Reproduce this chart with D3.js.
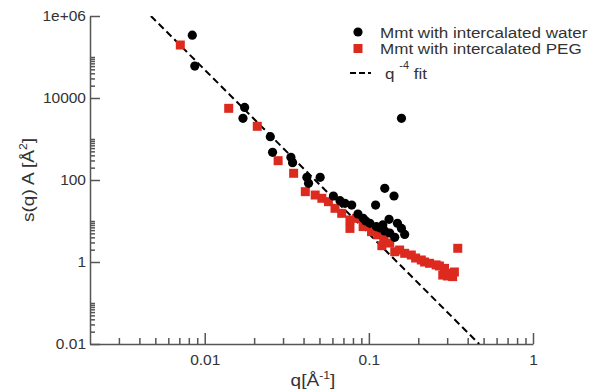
<!DOCTYPE html>
<html>
<head>
<meta charset="utf-8">
<script src="https://cdn.jsdelivr.net/npm/d3@7"></script>
<style>
  body { margin: 0; background: #fff; }
  svg { font-family: "Liberation Sans", Arial, sans-serif; }
</style>
</head>
<body>
<svg width="601" height="392"></svg>
<script>
// Mmt with intercalated water
const waterQ = [0.0084, 0.0087, 0.0171, 0.0175, 0.0251, 0.0259, 0.0335, 0.0343, 0.0419, 0.0429,
  0.0505, 0.0608, 0.0667, 0.0715, 0.0786, 0.0858, 0.0923, 0.0958, 0.1014, 0.1099,
  0.111, 0.1166, 0.1216, 0.125, 0.125, 0.1327, 0.134, 0.1423, 0.1438, 0.1493,
  0.158, 0.158, 0.1653];
const waterS = [3.4e5, 6.0e4, 3200, 5900, 1140, 474, 358, 264, 116, 83,
  116, 40.7, 31.3, 27, 24.5, 14.8, 11.6, 10, 8.8, 24.5,
  7.3, 6.8, 8.0, 62.8, 5.7, 11, 5.1, 40.7, 4.0, 8.8,
  3200, 6.6, 4.7];

// Mmt with intercalated PEG
const pegQ = [0.0071, 0.0140, 0.0209, 0.0280, 0.0348, 0.0410, 0.0471, 0.0517, 0.0567, 0.0622,
  0.0683, 0.0767, 0.0767, 0.0842, 0.0923, 0.1038, 0.1134, 0.12, 0.1233, 0.134,
  0.1438, 0.154, 0.1653, 0.1814, 0.1927, 0.2086, 0.2185, 0.2343, 0.257, 0.269,
  0.282, 0.289, 0.301, 0.31, 0.324, 0.332, 0.348];
const pegS = [1.96e5, 5600, 2040, 296, 146, 52, 43, 35.8, 29.6, 20.4,
  15.4, 10.6, 6.6, 11.6, 7.3, 5.5, 4.6, 2.5, 3.6, 2.9,
  1.78, 1.96, 1.63, 1.48, 1.25, 1.12, 1.0, 0.93, 0.85, 0.80,
  0.48, 0.70, 0.456, 0.53, 0.44, 0.57, 2.16];

// q^-4 fit, end points
const fitQ = [0.0047, 0.47];
const fitS = [1e6, 0.01];

const xMajor = [0.01, 0.1, 1];
const xMinor = [0.003, 0.004, 0.005, 0.006, 0.007, 0.008, 0.009,
  0.02, 0.03, 0.04, 0.05, 0.06, 0.07, 0.08, 0.09,
  0.2, 0.3, 0.4, 0.5, 0.6, 0.7, 0.8, 0.9];
const yMajor = [0.01, 1, 100, 10000, 1e6];
const yLabels = ["0.01", "1", "100", "10000", "1e+06"];
const yMinor = [0.02, 0.03, 0.04, 0.05, 0.06, 0.07, 0.08, 0.09, 0.1,
  2, 3, 4, 5, 6, 7, 8, 9, 10,
  200, 300, 400, 500, 600, 700, 800, 900, 1000,
  20000, 30000, 40000, 50000, 60000, 70000, 80000, 90000, 100000];

const legendNames = ["Mmt with intercalated water", "Mmt with intercalated PEG"];

const margin = { left: 90, top: 16, right: 68, bottom: 48 };
const W = 601, H = 392;
const width = W - margin.left - margin.right,
  height = H - margin.top - margin.bottom;

const x = d3.scaleLog().domain([0.002, 1]).range([0, width]);
const y = d3.scaleLog().domain([0.01, 1e6]).range([height, 0]);

const axisCol = "#555", textCol = "#333", red = "#dd2a1f";

const svg = d3.select("svg");
const g = svg.append("g").attr("transform", "translate(" + margin.left + "," + margin.top + ")");

g.append("defs").append("clipPath").attr("id", "clip")
  .append("rect").attr("width", width).attr("height", height);

// x axis (ticks point inward)
const xAx = g.append("g").attr("transform", "translate(0," + height + ")")
  .call(d3.axisTop(x).tickValues(xMajor).tickFormat(d3.format("")).tickSize(11).tickSizeOuter(0));
xAx.selectAll("text").attr("y", 10).attr("dy", "0.71em").style("font-size", "15.5px").attr("fill", textCol);
g.append("g").attr("transform", "translate(0," + height + ")")
  .call(d3.axisTop(x).tickValues(xMinor).tickFormat("").tickSize(6).tickSizeOuter(0))
  .select(".domain").remove();

// y axis
const yAx = g.append("g")
  .call(d3.axisRight(y).tickValues(yMajor).tickFormat((d, i) => yLabels[i]).tickSize(10).tickSizeOuter(0));
yAx.selectAll("text").attr("x", -4).attr("text-anchor", "end").style("font-size", "15.5px").attr("fill", textCol);
g.append("g")
  .call(d3.axisRight(y).tickValues(yMinor).tickFormat("").tickSize(5).tickSizeOuter(0))
  .select(".domain").remove();

g.selectAll(".domain, .tick line").attr("stroke", axisCol).attr("stroke-width", 1.5);

// fit line
const plot = g.append("g").attr("clip-path", "url(#clip)");
plot.append("path")
  .datum(fitQ.map((q, i) => [q, fitS[i]]))
  .attr("d", d3.line().x(d => x(d[0])).y(d => y(d[1])))
  .attr("fill", "none").attr("stroke", "#000").attr("stroke-width", 2)
  .attr("stroke-dasharray", "7,4");

// PEG squares
const sq = 9;
plot.selectAll(".peg").data(pegQ).enter().append("rect")
  .attr("class", "peg")
  .attr("x", d => x(d) - sq / 2)
  .attr("y", (d, i) => y(pegS[i]) - sq / 2)
  .attr("width", sq).attr("height", sq).attr("fill", red);

// water circles
plot.selectAll(".water").data(waterQ).enter().append("circle")
  .attr("class", "water")
  .attr("cx", d => x(d))
  .attr("cy", (d, i) => y(waterS[i]))
  .attr("r", 4.6).attr("fill", "#000");

// axis titles (slightly wide lettering, as in the original)
svg.append("text").attr("transform", "translate(313,386) scale(1.12,1)").attr("text-anchor", "middle")
  .style("font-size", "17px").attr("fill", textCol)
  .html('q[Å<tspan dy="-7" font-size="11px">-1</tspan><tspan dy="7">]</tspan>');
svg.append("text").attr("transform", "translate(34,180) rotate(-90) scale(1.12,1)").attr("text-anchor", "middle")
  .style("font-size", "17px").attr("fill", textCol)
  .html('s(q) A [Å<tspan dy="-7" font-size="11px">2</tspan><tspan dy="7">]</tspan>');

// legend
const lg = svg.append("g").attr("transform", "translate(358,32)");
lg.append("circle").attr("cx", 0).attr("cy", 0).attr("r", 4.6).attr("fill", "#000");
lg.append("rect").attr("x", -4.5).attr("y", 16.5 - 4.5).attr("width", sq).attr("height", sq).attr("fill", red);
lg.append("line").attr("x1", -8).attr("x2", 13).attr("y1", 41).attr("y2", 41)
  .attr("stroke", "#000").attr("stroke-width", 2).attr("stroke-dasharray", "6,3");
lg.selectAll(".lt").data(legendNames).enter().append("text")
  .attr("transform", (d, i) => "translate(22," + (5.5 + i * 16.5) + ") scale(1.1,1)")
  .style("font-size", "15.5px").attr("fill", textCol).text(d => d);
lg.append("text").attr("transform", "translate(27,47) scale(1.1,1)").style("font-size", "15.5px").attr("fill", textCol)
  .html('q <tspan dy="-10" font-size="10px">-4</tspan><tspan dy="10"> fit</tspan>');
</script>
</body>
</html>
